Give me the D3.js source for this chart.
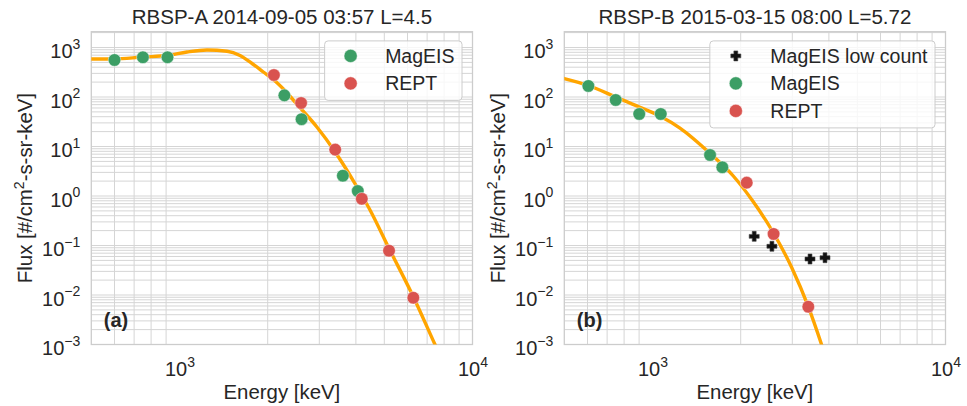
<!DOCTYPE html>
<html><head><meta charset="utf-8">
<script src="https://cdn.jsdelivr.net/npm/d3@7"></script>
<style>
body{margin:0;background:#fff}
svg{display:block}
text{font-family:"Liberation Sans",Arial,Helvetica,sans-serif;fill:#262626}
</style>
</head><body>
<svg id="chart" width="967" height="406"></svg>
<script>
// ---------------- data ----------------
const xTickValues = [1e3, 1e4];
const yTickValues = [1e-3, 1e-2, 1e-1, 1e0, 1e1, 1e2, 1e3];
const xLabel = "Energy [keV]";
const yLabelParts = ["Flux [#/cm", "2", "-s-sr-keV]"];

const titleA = "RBSP-A 2014-09-05 03:57 L=4.5";
const tagA = "(a)";
const aMagEISEnergy = [600, 750, 910, 2280, 2610, 3610, 4060];
const aMagEISFlux   = [559, 634, 634, 108, 35.6, 2.57, 1.26];
const aREPTEnergy   = [2100, 2600, 3400, 4190, 5190, 6280];
const aREPTFlux     = [278, 75.6, 8.66, 0.877, 0.0785, 0.0088];
const aFitEnergy = [500, 598, 750, 907, 1061, 1241, 1453, 1609, 1768, 1932, 2101, 2279, 2578, 2939, 3394, 3623, 4025, 4469, 5188, 6280, 7447, 7745];
const aFitFlux   = [586, 586, 643, 689, 811, 890, 842, 689, 475, 320, 220, 138.5, 60.8, 25.1, 7.85, 4.33, 1.556, 0.5215, 0.0878, 0.00924, 0.001, 0.0006];

const titleB = "RBSP-B 2015-03-15 08:00 L=5.72";
const tagB = "(b)";
const bLowEnergy  = [2224, 2556, 3448, 3879];
const bLowFlux    = [0.153, 0.0964, 0.0533, 0.0567];
const bMagEISEnergy = [604, 749, 901, 1067, 1572, 1731];
const bMagEISFlux   = [167, 87, 45.4, 45.4, 6.73, 3.8];
const bREPTEnergy   = [2097, 2590, 3402];
const bREPTFlux     = [1.86, 0.171, 0.0058];
const bFitEnergy = [500, 604, 749, 902, 1067, 1241, 1571, 1887, 2186, 2552, 2986, 3402, 3780, 3910];
const bFitFlux   = [236, 170.7, 100, 62.8, 40.4, 23.6, 7.29, 2.535, 0.83, 0.2056, 0.0359, 0.0058, 0.000977, 0.000534];

const seriesNames = {low: "MagEIS low count", mag: "MagEIS", rept: "REPT"};

// ---------------- styles ----------------
const C = {green: "#3c9e65", red: "#d9534f", orange: "#ffa500", black: "#111111", grid: "#d5d5d5", frame: "#cccccc"};

const svg = d3.select("#chart");
svg.append("rect").attr("width", 967).attr("height", 406).attr("fill", "#fff");

const zip = (a, b) => a.map((v, i) => [v, b[i]]);

const panels = [
  {left: 91.3, title: titleA, tag: tagA,
   fit: zip(aFitEnergy, aFitFlux),
   series: [
     {key: "mag", type: "circle", color: C.green, pts: zip(aMagEISEnergy, aMagEISFlux)},
     {key: "rept", type: "circle", color: C.red, pts: zip(aREPTEnergy, aREPTFlux)}
   ]},
  {left: 564.3, title: titleB, tag: tagB,
   fit: zip(bFitEnergy, bFitFlux),
   series: [
     {key: "low", type: "cross", color: C.black, pts: zip(bLowEnergy, bLowFlux)},
     {key: "mag", type: "circle", color: C.green, pts: zip(bMagEISEnergy, bMagEISFlux)},
     {key: "rept", type: "circle", color: C.red, pts: zip(bREPTEnergy, bREPTFlux)}
   ]}
];

const W = 381.2, TOP = 31.7, BOT = 344.5;
const yTop = Math.pow(10, 3 + (47.5 - TOP) / 49.5);
const R = 6.3;

// filled plus ("P") marker
function plusPath(w, a) {
  const h = w / 2, t = a / 2;
  return `M${-t},${-h}H${t}V${-t}H${h}V${t}H${t}V${h}H${-t}V${t}H${-h}V${-t}H${-t}Z`;
}
const PLUS = plusPath(10, 3.9);

function supLabel(sel, v) {
  const e = Math.round(Math.log10(v));
  sel.append("tspan").text("10");
  sel.append("tspan").attr("font-size", 14).attr("dy", -9.5).text(String(e).replace("-", "\u2212"));
}

panels.forEach((p, pi) => {
  const x = d3.scaleLog().domain([500, 1e4]).range([p.left, p.left + W]);
  const y = d3.scaleLog().domain([1e-3, yTop]).range([BOT, TOP]);
  const g = svg.append("g");
  const clipId = "clip" + pi;
  svg.append("clipPath").attr("id", clipId).append("rect")
    .attr("x", p.left).attr("y", TOP).attr("width", W).attr("height", BOT - TOP);

  // grid
  const yGrid = [];
  for (let k = -3; k <= 3; k++) for (let m = 1; m <= 9; m++) {
    const v = m * Math.pow(10, k);
    if (v > 1e-3 && v < yTop) yGrid.push(v);
  }
  const xGrid = [];
  for (let k = 2; k <= 3; k++) for (let m = 2; m <= 9; m++) {
    const v = m * Math.pow(10, k);
    if (v > 500 && v < 1e4) xGrid.push(v);
  }
  g.append("g").selectAll("line").data(yGrid).join("line")
    .attr("x1", p.left).attr("x2", p.left + W)
    .attr("y1", d => y(d)).attr("y2", d => y(d))
    .attr("stroke", C.grid).attr("stroke-width", 1);
  g.append("g").selectAll("line").data(xGrid).join("line")
    .attr("y1", TOP).attr("y2", BOT)
    .attr("x1", d => x(d)).attr("x2", d => x(d))
    .attr("stroke", C.grid).attr("stroke-width", 1);

  // frame
  g.append("rect").attr("x", p.left).attr("y", TOP).attr("width", W).attr("height", BOT - TOP)
    .attr("fill", "none").attr("stroke", C.frame).attr("stroke-width", 1.3);

  // y ticks
  const yAxis = d3.axisLeft(y).tickValues(yTickValues).tickSize(0).tickFormat("");
  const ya = g.append("g").attr("transform", `translate(${p.left},0)`).call(yAxis);
  ya.select(".domain").remove();
  ya.selectAll(".tick").each(function(d) {
    const t = d3.select(this).append("text").attr("x", -11).attr("y", 10)
      .attr("text-anchor", "end").attr("font-size", 20).attr("fill", "#262626");
    supLabel(t, d);
  });
  const xAxis = d3.axisBottom(x).tickValues(xTickValues).tickSize(0).tickFormat("");
  const xa = g.append("g").attr("transform", `translate(0,${BOT})`).call(xAxis);
  xa.select(".domain").remove();
  xa.selectAll(".tick").each(function(d) {
    const t = d3.select(this).append("text").attr("x", 0).attr("y", 31.5)
      .attr("text-anchor", "middle").attr("font-size", 20).attr("fill", "#262626");
    supLabel(t, d);
  });

  // labels
  g.append("text").attr("x", p.left + W / 2).attr("y", 24).attr("text-anchor", "middle")
    .attr("font-size", 20.5).text(p.title);
  g.append("text").attr("x", p.left + W / 2).attr("y", 399).attr("text-anchor", "middle")
    .attr("font-size", 20.4).text(xLabel);
  const yl = g.append("text").attr("transform", `translate(${p.left - 59},${(TOP + BOT) / 2}) rotate(-90)`)
    .attr("text-anchor", "middle").attr("font-size", 20.4);
  yl.append("tspan").text(yLabelParts[0]);
  yl.append("tspan").attr("font-size", 14).attr("dy", -8).text(yLabelParts[1]);
  yl.append("tspan").attr("dy", 8).text(yLabelParts[2]);
  g.append("text").attr("x", p.left + 12.5).attr("y", 327).attr("font-size", 20)
    .attr("font-weight", "bold").text(p.tag);

  // fit line
  const line = d3.line().x(d => x(d[0])).y(d => y(d[1])).curve(d3.curveMonotoneX);
  g.append("path").attr("clip-path", `url(#${clipId})`).datum(p.fit).attr("d", line)
    .attr("fill", "none").attr("stroke", C.orange).attr("stroke-width", 3.4)
    .attr("stroke-linecap", "round").attr("stroke-linejoin", "round");

  // markers
  p.series.forEach(s => {
    const mg = g.append("g").attr("clip-path", `url(#${clipId})`);
    if (s.type === "circle") {
      mg.selectAll("circle").data(s.pts).join("circle")
        .attr("cx", d => x(d[0])).attr("cy", d => y(d[1])).attr("r", R)
        .attr("fill", s.color).attr("stroke", "rgba(255,255,255,0.5)").attr("stroke-width", 0.9);
    } else {
      mg.selectAll("path").data(s.pts).join("path")
        .attr("transform", d => `translate(${x(d[0])},${y(d[1])})`).attr("d", PLUS)
        .attr("fill", s.color).attr("stroke", "#444").attr("stroke-width", 0.6);
    }
  });

  // legend
  const lg = g.append("g");
  const n = p.series.length;
  const box = lg.append("rect").attr("fill", "rgba(255,255,255,0.8)").attr("stroke", C.frame)
    .attr("stroke-width", 1).attr("rx", 3.5);
  let maxW = 0;
  p.series.forEach((s, i) => {
    const ry = 15 + i * 27.5;
    const it = lg.append("g").attr("transform", `translate(0,${ry})`);
    if (s.type === "circle") {
      it.append("circle").attr("cx", 26).attr("cy", 0).attr("r", R + 0.3)
        .attr("fill", s.color).attr("stroke", "rgba(255,255,255,0.5)").attr("stroke-width", 0.9);
    } else {
      it.append("path").attr("transform", "translate(26,0)").attr("d", PLUS)
        .attr("fill", s.color).attr("stroke", "#444").attr("stroke-width", 0.6);
    }
    const t = it.append("text").attr("x", 60.5).attr("y", 7).attr("font-size", 19.5).text(seriesNames[s.key]);
    maxW = Math.max(maxW, t.node().getComputedTextLength());
  });
  const bw = 60.5 + maxW + 7.5;
  const bh = 15 + (n - 1) * 27.5 + 17;
  box.attr("x", 0).attr("y", 0).attr("width", bw).attr("height", bh);
  lg.attr("transform", `translate(${p.left + W - 10.5 - bw},${TOP + 9.2})`);
});
</script>
</body></html>
